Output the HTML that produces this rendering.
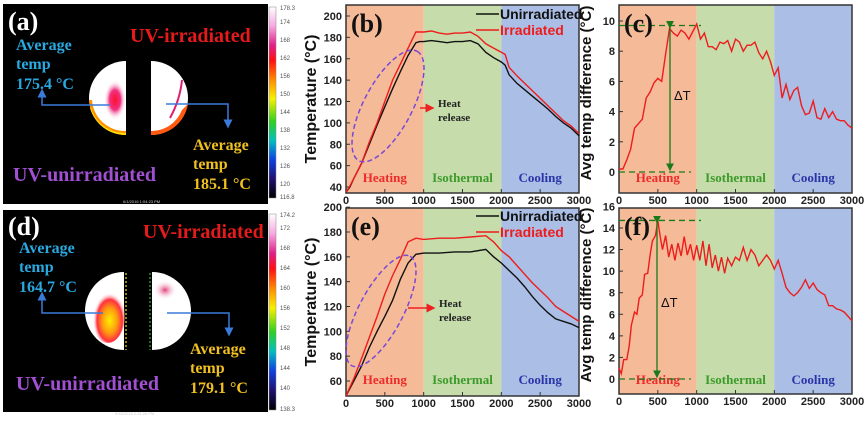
<!DOCTYPE html>
<html><head><meta charset="utf-8"><style>
body{margin:0;background:#fff;width:867px;height:427px;overflow:hidden}
svg{display:block}
.tk{font:bold 11px "Liberation Sans",sans-serif;fill:#222}
.ser{font-family:"Liberation Serif",serif;font-weight:bold}
.cb{font:6px "Liberation Sans",sans-serif;fill:#555}
</style></head><body>
<svg id="fig" width="867" height="427" viewBox="0 0 867 427" xmlns="http://www.w3.org/2000/svg">
<defs>
<linearGradient id="cbar" x1="0" y1="0" x2="0" y2="1">
<stop offset="0" stop-color="#ffffff"/><stop offset="0.1" stop-color="#f7a8e0"/><stop offset="0.2" stop-color="#e0208a"/><stop offset="0.28" stop-color="#ff1010"/><stop offset="0.38" stop-color="#ff8a00"/><stop offset="0.48" stop-color="#f7f000"/><stop offset="0.6" stop-color="#30d020"/><stop offset="0.7" stop-color="#00c0c0"/><stop offset="0.8" stop-color="#1040e0"/><stop offset="0.9" stop-color="#201070"/><stop offset="1" stop-color="#000"/>
</linearGradient>
<radialGradient id="hotA" cx="0.5" cy="0.5" r="0.5"><stop offset="0" stop-color="#ff1030"/><stop offset="0.5" stop-color="#f03080"/><stop offset="1" stop-color="#fff" stop-opacity="0"/></radialGradient>
<radialGradient id="hotD" cx="0.55" cy="0.6" r="0.5"><stop offset="0" stop-color="#ffee00"/><stop offset="0.45" stop-color="#ff9a10"/><stop offset="0.75" stop-color="#ff3040"/><stop offset="1" stop-color="#fff" stop-opacity="0"/></radialGradient>
<radialGradient id="pinkD" cx="0.5" cy="0.5" r="0.5"><stop offset="0" stop-color="#e0407a"/><stop offset="1" stop-color="#fff" stop-opacity="0"/></radialGradient>
<marker id="ab" markerWidth="6" markerHeight="6" refX="3" refY="3" orient="auto"><path d="M0,0 L6,3 L0,6z" fill="#3a7ad8"/></marker>
<marker id="ag" markerWidth="6" markerHeight="6" refX="5" refY="3" orient="auto"><path d="M0,0 L6,3 L0,6z" fill="#1a7a1a"/></marker>
<marker id="ar" markerWidth="6" markerHeight="6" refX="5" refY="3" orient="auto"><path d="M0,0 L6,3 L0,6z" fill="#ee2020"/></marker>
</defs>

<!-- Thermal image (a) -->
<g>
<rect x="3" y="4" width="265" height="200" fill="#000"/>
<rect x="269" y="7" width="7" height="191" fill="url(#cbar)" stroke="#888" stroke-width="0.5"/>
<path d="M126,61 A37,37 0 0 0 126,135 Z" fill="#fff"/>
<path d="M89,100 A37,37 0 0 0 126,135 L126,131 A33,33 0 0 1 92,100Z" fill="#ff9000"/>
<path d="M90,108 A37,37 0 0 0 126,135 L126,133 A35,35 0 0 1 91,108Z" fill="#ffe000"/>
<ellipse cx="115" cy="100" rx="11" ry="20" fill="url(#hotA)"/>
<path d="M151,61 A37,37 0 0 1 151,135 Z" fill="#fff"/>
<path d="M151,131 A33,33 0 0 0 182,110 L188,104 A37,37 0 0 1 151,135Z" fill="#ff5a10"/>
<path d="M170,118 Q180,100 182,80" stroke="#e02070" stroke-width="2" fill="none"/>
<text x="8" y="30" class="ser" font-size="26" fill="#fff">(a)</text>
<text x="130" y="42" class="ser" font-size="20" fill="#e51a1a">UV-irradiated</text>
<text class="ser" font-size="16" fill="#2aa8e0"><tspan x="16" y="50">Average</tspan><tspan x="16" y="69">temp</tspan><tspan x="16" y="89">175.4 °C</tspan></text>
<text class="ser" font-size="16" fill="#f0c020"><tspan x="193" y="150">Average</tspan><tspan x="193" y="169">temp</tspan><tspan x="193" y="189">185.1 °C</tspan></text>
<text x="13" y="181" class="ser" font-size="20" fill="#a050d0">UV-unirradiated</text>
<polyline points="110,105 42,105 42,93" fill="none" stroke="#3a7ad8" stroke-width="1.5" marker-end="url(#ab)"/>
<polyline points="166,104 228,104 228,124" fill="none" stroke="#3a7ad8" stroke-width="1.5" marker-end="url(#ab)"/>
<text x="123" y="203" font-size="4" fill="#ccc" font-family="Liberation Sans">6/1/2016 1:04:23 PM</text>
<g class="cb"><text x="280" y="10">178.3</text><text x="280" y="24">174</text><text x="280" y="42">168</text><text x="280" y="60">162</text><text x="280" y="78">156</text><text x="280" y="96">150</text><text x="280" y="114">144</text><text x="280" y="132">138</text><text x="280" y="150">132</text><text x="280" y="168">126</text><text x="280" y="186">120</text><text x="280" y="199">116.8</text></g>
</g>

<!-- Thermal image (d) -->
<g>
<rect x="3" y="210" width="265" height="202" fill="#000"/>
<rect x="269" y="214" width="7" height="196" fill="url(#cbar)" stroke="#888" stroke-width="0.5"/>
<path d="M124,272 A39,39 0 0 0 124,350 Z" fill="#fff"/>
<ellipse cx="108" cy="315" rx="17" ry="28" fill="url(#hotD)"/>
<line x1="126" y1="273" x2="126" y2="350" stroke="#c0b020" stroke-width="1.5" stroke-dasharray="2,2"/>
<path d="M152,272 A39,39 0 0 1 152,350 Z" fill="#fff"/>
<ellipse cx="165" cy="290" rx="12" ry="10" fill="url(#pinkD)"/>
<line x1="150" y1="273" x2="150" y2="350" stroke="#30b030" stroke-width="1.2" stroke-dasharray="2,2"/>
<text x="8" y="235" class="ser" font-size="26" fill="#fff">(d)</text>
<text x="143" y="238" class="ser" font-size="20" fill="#e51a1a">UV-irradiated</text>
<text class="ser" font-size="16" fill="#2aa8e0"><tspan x="19" y="253">Average</tspan><tspan x="19" y="272">temp</tspan><tspan x="19" y="292">164.7 °C</tspan></text>
<text class="ser" font-size="16" fill="#f0c020"><tspan x="190" y="354">Average</tspan><tspan x="190" y="373">temp</tspan><tspan x="190" y="393">179.1 °C</tspan></text>
<text x="16" y="390" class="ser" font-size="20" fill="#a050d0">UV-unirradiated</text>
<polyline points="103,313 42,313 42,296" fill="none" stroke="#3a7ad8" stroke-width="1.5" marker-end="url(#ab)"/>
<polyline points="167,313 229,313 229,332" fill="none" stroke="#3a7ad8" stroke-width="1.5" marker-end="url(#ab)"/>
<text x="115" y="415" font-size="4" fill="#ccc" font-family="Liberation Sans">5/18/2016 2:31:26 PM</text>
<g class="cb"><text x="280" y="217">174.2</text><text x="280" y="230">172</text><text x="280" y="250">168</text><text x="280" y="270">164</text><text x="280" y="290">160</text><text x="280" y="310">156</text><text x="280" y="330">152</text><text x="280" y="350">148</text><text x="280" y="370">144</text><text x="280" y="390">140</text><text x="280" y="411">138.3</text></g>
</g>

<g id="charts"></g>
</svg>
<script>
// ---- data ----
const xTicks=[0,500,1000,1500,2000,2500,3000];
const phaseNames=["Heating","Isothermal","Cooling"];
const phaseBounds=[0,1000,2000,3000];
const bTicks=[40,60,80,100,120,140,160,180,200];
const bTime=[0,50,100,200,300,400,500,600,700,800,900,950,1000,1100,1200,1300,1400,1500,1600,1700,1800,1900,2000,2050,2100,2200,2300,2400,2500,2600,2700,2800,2900,3000];
const bUnirr=[35,40,48,62,80,98,115,132,148,163,175,176,176,177,176,175,176,176,177,174,166,161,157,154,145,137,131,125,119,113,106,100,95,88];
const bIrr=[35,41,48,62,82,100,120,140,155,170,185,185,185,186,184,183,184,184,185,181,174,170,166,164,152,144,137,130,123,116,109,102,97,90];
const cTicks=[0,2,4,6,8,10];
const cTime=[0,50,100,150,200,250,300,350,400,450,500,550,600,650,700,750,800,850,900,1000,1050,1100,1150,1200,1250,1300,1350,1400,1450,1500,1550,1600,1650,1700,1750,1800,1850,1900,1950,2000,2050,2100,2150,2200,2250,2300,2350,2400,2450,2500,2550,2600,2650,2700,2750,2800,2850,2900,2950,3000];
const cDiff=[0.2,0.2,0.8,1.5,2.9,3.2,3.5,4.9,5.3,5.9,6.2,6.0,7.8,9.5,9.2,9.0,9.4,9.2,8.8,9.8,8.8,9.2,8.3,8.3,8.1,8.6,8.5,8.7,8.0,8.8,8.6,8.0,8.4,8.4,8.6,7.9,7.5,8.0,7.3,6.4,6.9,4.9,5.8,4.8,5.4,5.6,4.4,3.8,3.9,4.7,3.6,3.5,4.2,3.6,4.0,3.5,3.4,3.4,3.1,2.9];
const eTicks=[60,80,100,120,140,160,180,200];
const eTime=[0,100,200,300,400,500,600,700,800,900,1000,1200,1400,1600,1800,1900,2000,2100,2200,2300,2400,2500,2600,2700,2800,2900,3000];
const eUnirr=[48,60,72,87,100,112,125,142,155,162,163,163,164,164,166,160,155,149,143,136,128,121,115,110,108,106,103];
const eIrr=[48,62,78,95,112,130,145,158,172,175,174,175,175,176,177,172,165,160,153,146,139,133,127,120,116,112,108];
const fTicks=[0,2,4,6,8,10,12,14,16];
const fTime=[0,30,60,100,130,160,200,230,260,300,330,370,400,430,470,500,530,560,600,640,680,720,760,800,840,880,920,960,1000,1040,1080,1120,1160,1200,1240,1280,1320,1360,1400,1450,1500,1550,1600,1650,1700,1750,1800,1850,1900,1950,2000,2050,2100,2150,2200,2250,2300,2350,2400,2450,2500,2550,2600,2650,2700,2750,2800,2850,2900,2950,3000];
const fDiff=[1,0.5,1.8,1.8,3,5,6.2,6,7.5,7.8,9.7,9.8,11.5,12.8,13.3,14.7,13.2,12,13.3,11.3,12.5,11,12.6,11.4,13.2,11.5,12.5,11,12.4,11,12.8,10.5,12.5,10.3,11.5,10,11.3,9.8,11.2,10.5,11.3,11,12.2,11,12,11.5,10.5,11,11.5,11,10.2,11,9.8,8.5,8,7.7,8,8.5,9.2,8.4,8.9,8.3,8,7.8,6.8,6.8,6.5,6.4,6.2,5.8,5.4];

const NS="http://www.w3.org/2000/svg";
const root=document.getElementById('charts');
function mk(tag,attrs,parent){const e=document.createElementNS(NS,tag);for(const k in attrs)e.setAttribute(k,attrs[k]);(parent||root).appendChild(e);return e;}
const bgCols=["#f5bb98","#c6ddab","#abbee5"];
const phaseCols=["#ee2a2a","#3c9a2a","#2a36a8"];

function chart(o){
  const g=mk('g',{});
  
  
  const X=t=>o.x0+(t-0)/3000*(o.x1-o.x0);
  const Y=v=>o.yA+(v-o.vA)*(o.yB-o.yA)/(o.vB-o.vA);
  for(let i=0;i<3;i++){
    const r=mk('rect',{x:X(phaseBounds[i]),y:o.top,width:X(phaseBounds[i+1])-X(phaseBounds[i]),height:o.bot-o.top,fill:bgCols[i]},g);
    
    
    const t=mk('text',{x:(X(phaseBounds[i])+X(phaseBounds[i+1]))/2,y:o.phaseY,'text-anchor':'middle',class:'ser','font-size':13,fill:phaseCols[i]},g);
    t.textContent=phaseNames[i];
    
    
  }
  const fr=mk('rect',{x:o.x0,y:o.top,width:o.x1-o.x0,height:o.bot-o.top,fill:'none',stroke:'#333','stroke-width':1.5},g);
  
  
  xTicks.forEach(t=>{
    mk('line',{x1:X(t),x2:X(t),y1:o.bot,y2:o.bot-4,stroke:'#333'},g);
    const tx=mk('text',{x:X(t),y:o.bot+11,'text-anchor':'middle',class:'tk'},g);
    tx.textContent=t;
    
    
  });
  o.yTicks.forEach(v=>{
    const yy=Y(v);
    if(yy>=o.top-1&&yy<=o.bot) mk('line',{x1:o.x0,x2:o.x0+4,y1:yy,y2:yy,stroke:'#333'},g);
    const tx=mk('text',{x:o.x0-4,y:yy+4,'text-anchor':'end',class:'tk'},g);
    tx.textContent=v;
    
    
  });
  o.series.forEach(s=>{
    const p=mk('polyline',{points:s.t.map((t,i)=>X(t).toFixed(1)+','+Y(s.v[i]).toFixed(1)).join(' '),fill:'none',stroke:s.c,'stroke-width':1.4},g);
    
    
  });
  return {g,X,Y};
}

function tempChart(o,tU,vU,tI,vI,lbl,legY,ell,heat){
  const c=chart(Object.assign(o,{series:[{t:tU,v:vU,c:'#111',name:'unirradiated-line'},{t:tI,v:vI,c:'#ee1c1c',name:'irradiated-line'}]}));
  const g=c.g;
  const e=mk('ellipse',{cx:ell[0],cy:ell[1],rx:ell[2],ry:ell[3],transform:`rotate(${ell[4]} ${ell[0]} ${ell[1]})`,fill:'none',stroke:'#7a48d8','stroke-width':1.5,'stroke-dasharray':'5,3'},g);
  
  
  mk('line',{x1:heat[0],y1:heat[1],x2:heat[2],y2:heat[1],stroke:'#ee2020','stroke-width':1.5,'marker-end':'url(#ar)'},g);
  const ht=mk('text',{class:'ser','font-size':11,fill:'#222'},g);
  ht.innerHTML=`<tspan x="${heat[2]+5}" y="${heat[1]-1}">Heat</tspan><tspan x="${heat[2]+5}" y="${heat[1]+13}">release</tspan>`;
  
  
  const pl=mk('text',{x:o.x0+5,y:o.top+27,class:'ser','font-size':26,fill:'#111'},g);
  pl.textContent=lbl;
  
  
  [['Unirradiated','#111',legY],['Irradiated','#ee1c1c',legY+16]].forEach(L=>{
    mk('line',{x1:476,x2:499,y1:L[2],y2:L[2],stroke:L[1],'stroke-width':1.6},g);
    const t=mk('text',{x:500,y:L[2]+5,'font-family':'Liberation Sans, sans-serif','font-weight':'bold','font-size':14,fill:L[1]},g);
    t.textContent=L[0];
    
    
  });
  const yt=mk('text',{transform:`translate(316 ${(o.top+o.bot)/2}) rotate(-90)`,'text-anchor':'middle','font-family':'Liberation Sans, sans-serif','font-weight':'bold','font-size':16,fill:'#111'},g);
  yt.textContent='Temperature (°C)';
  
  
}

function diffChart(o,t,v,lbl,peakT,peakV,arrowX,dtY){
  const c=chart(Object.assign(o,{series:[{t:t,v:v,c:'#ee1c1c',name:'temp-difference-line'}]}));
  const g=c.g;
  mk('line',{x1:o.x0,x2:o.x0+82,y1:c.Y(peakV),y2:c.Y(peakV),stroke:'#1a7a1a','stroke-width':1.3,'stroke-dasharray':'6,4'},g);
  mk('line',{x1:o.x0,x2:o.x0+72,y1:c.Y(0),y2:c.Y(0),stroke:'#1a7a1a','stroke-width':1.3,'stroke-dasharray':'6,4'},g);
  const a=mk('line',{x1:arrowX,x2:arrowX,y1:c.Y(peakV)+2,y2:c.Y(0)-2,stroke:'#1a7a1a','stroke-width':1.3,'marker-end':'url(#ag)','marker-start':'url(#ag)'},g);
  
  
  const d=mk('text',{x:arrowX+4,y:dtY,'font-family':'Liberation Sans, sans-serif','font-size':13,fill:'#111'},g);
  d.textContent='ΔT';
  
  
  const pl=mk('text',{x:o.x0+5,y:o.top+27,class:'ser','font-size':26,fill:'#111'},g);
  pl.textContent=lbl;
  
  
  const yt=mk('text',{transform:`translate(591 ${(o.top+o.bot)/2-6}) rotate(-90)`,'text-anchor':'middle','font-family':'Liberation Sans, sans-serif','font-weight':'bold','font-size':15,fill:'#111'},g);
  yt.textContent='Avg temp difference (°C)';
  
  
}

tempChart({name:'chart-b-temperature',x0:346,x1:579,top:5,bot:193,yA:16,vA:200,yB:187,vB:40,yTicks:bTicks,phaseY:182},bTime,bUnirr,bTime,bIrr,'(b)',14,[388,106,62,24,-62],[420,108,433]);
diffChart({name:'chart-c-temp-difference',x0:619,x1:852,top:5,bot:193,yA:172,vA:0,yB:21,vB:10,yTicks:cTicks,phaseY:182},cTime,cDiff,'(c)',650,9.7,670,100);
tempChart({name:'chart-e-temperature',x0:346,x1:579,top:208,bot:396,yA:232,vA:180,yB:381,vB:60,yTicks:eTicks,phaseY:384},eTime,eUnirr,eTime,eIrr,'(e)',216,[381,311,62,22,-62],[408,308,434]);
diffChart({name:'chart-f-temp-difference',x0:619,x1:852,top:208,bot:394,yA:379,vA:0,yB:228,vB:14,yTicks:fTicks,phaseY:384},fTime,fDiff,'(f)',500,14.7,657,307);
</script>
</body></html>
